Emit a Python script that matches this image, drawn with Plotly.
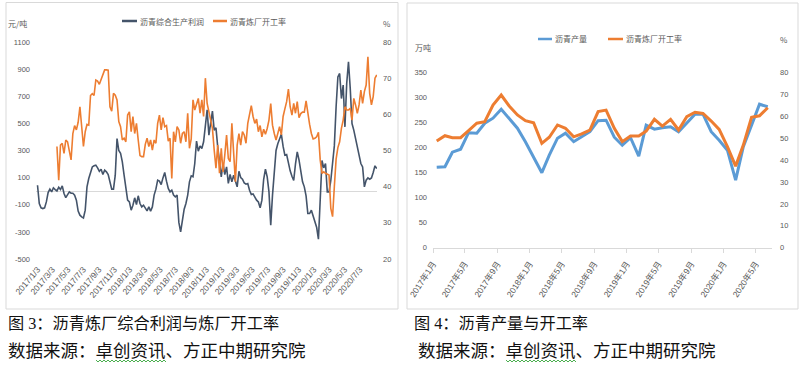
import pandas as pd
import plotly.graph_objects as go

W, H = 811, 373

# ---------------- 图3 data: weekly series starting 2017-01-03 ----------------
profit_start = "2017-01-03"
profit = [
    44, -91, -123, -128, -123, -79, -10, 15, -5, 25,
    12, 2, 29, 12, 39, -17, -47, -20, -5, -15,
    -15, -29, -66, -147, -177, -189, -197, -140, 32, 93,
    138, 179, 187, 192, 172, 147, 162, 123, 155, 143,
    123, 69, 15, 15, 118, 388, 300, 280, 216, 118,
    7, -66, -79, -140, -103, -49, -98, -34, -91, -116,
    -103, -128, -145, -116, -147, -116, -29, 15, 81, 74,
    49, 98, 138, 74, 20, -5, 7, -29, -42, -29,
    -230, -300, -220, -133, -91, -29, 69, 113, 106, 204,
    369, 295, 334, 315, 364, 480, 600, 413, 500, 590,
    450, 467, 327, 204, 106, 204, 123, 179, 57, 123,
    69, 118, 64, 32, 147, 101, 88, 61, 52, 57,
    7, -25, -20, -49, -66, -79, -123, -66, 88, 162,
    106, -5, -251, -29, 120, 300, 350, 390, 420, 330,
    265, 270, 200, 150, 110, 80, 200, 290, 230, 130,
    69, 32, -34, -165, -165, -140, -189, -238, -268, -354,
    -103, 226, 172, 204, -5, -5, 79, 192, 334, 622,
    843, 868, 683, 782, 474, 794, 954, 757, 499, 450,
    388, 302, 241, 204, 179, 32, 81, 98, 88, 98,
    138, 187, 167,
]
rate3 = [
    None, None, None, None, None, None, None, None, None, None,
    None, 51.1, 41.8, 51.5, 52, 49.2, 52.9, 52.4, 50.1, 47.4,
    54.7, 56.9, 55.7, 57.8, 62.1, 57, 51.1, 55.2, 57.2, 57,
    65.2, 65.7, 65.2, 69.5, 69.2, 68.3, 69.8, 71.1, 72.3, 72.3,
    72.2, 62.1, 60.9, 65.8, 65.3, 64, 58, 56.6, 52.9, 53.4,
    52.4, 59.8, 60.7, 55.2, 59.4, 54.7, 57.5, 52.9, 48.6, 48.3,
    48.3, 51.7, 53.4, 51.1, 52.9, 50.1, 52.9, 52, 57.5, 59.8,
    55.7, 59.1, 56.6, 56.9, 52.6, 53.4, 42.3, 55.2, 52.4, 56.6,
    55.7, 52, 54.7, 55.2, 52.4, 60.3, 50.6, 53.2, 64, 61.2,
    62.6, 64.4, 60.3, 64, 59.4, 70, 63, 60.6, 57.8, 56.1,
    50.1, 45.1, 51.5, 43.7, 50.6, 44.1, 48.8, 54.3, 47.8, 46.9,
    57.5, 49.7, 41.4, 51.5, 54.7, 51.5, 55.2, 54.3, 52, 57.5,
    60.3, 62.4, 59.4, 57.5, 58.7, 55.2, 56.9, 53.8, 55.9, 54.5,
    56.1, 58.4, 63, 57, 54.7, 52.9, 54.7, 56.6, 54.3, 59.4,
    61.5, 63.5, 67, 62.1, 59.8, 63, 60.3, 63.5, 59.1, 60.2,
    60.6, 60.6, 63.7, 59.8, 57.2, 54.7, 53.2, 53.4, 53.8, 55,
    47.4, 43.7, 44.1, 43.7, 43.4, 43.2, 34, 31.7, 40, 47.6,
    50.8, 52.4, 56.1, 58.4, 62.1, 61.2, 61.2, 61.7, 58.4, 64.4,
    62.6, 60.3, 62.6, 66.7, 63, 66.3, 68.1, 75.9, 65.8, 62.6,
    64.9, 70, 70.9,
]
left_tick_labels = [
    "2017/1/3", "2017/3/3", "2017/5/3", "2017/7/3", "2017/9/3", "2017/11/3",
    "2018/1/3", "2018/3/3", "2018/5/3", "2018/7/3", "2018/9/3", "2018/11/3",
    "2019/1/3", "2019/3/3", "2019/5/3", "2019/7/3", "2019/9/3", "2019/11/3",
    "2020/1/3", "2020/3/3", "2020/5/3", "2020/7/3",
]
left_y_ticks = [-500, -300, -100, 100, 300, 500, 700, 900, 1100]
left_y2_ticks = [20, 30, 40, 50, 60, 70, 80]

# ---------------- 图4 data: monthly 2017-01 .. 2020-06 ----------------
month_start = "2017-01-01"
output = [
    161, 162, 191, 197, 230, 229, 249, 259, 277, 259,
    239, 212, 182, 150, 185, 219, 229, 212, 222, 232,
    254, 255, 221, 205, 220, 183, 245, 237, 240, 242,
    232, 249, 267, 267, 232, 215, 195, 135, 202, 245,
    287, 282,
]
rate4 = [
    48.8, 51.2, 50.3, 50.3, 53.5, 56.9, 57.6, 65.2, 69.8, 64.8,
    60.7, 58.1, 57.1, 47.7, 50.5, 56.1, 54.6, 50.7, 52.0, 53.8,
    62.2, 62.9, 54.6, 48.5, 51.1, 51.1, 53.3, 58.7, 55.6, 58.7,
    53.8, 59.9, 61.9, 61.4, 57.9, 54.1, 46.2, 37.3, 46.9, 59.6,
    60.3, 64.0,
]
right_tick_labels = [
    "2017年1月", "2017年5月", "2017年9月", "2018年1月", "2018年5月", "2018年9月",
    "2019年1月", "2019年5月", "2019年9月", "2020年1月", "2020年5月",
]
right_y_ticks = [0, 50, 100, 150, 200, 250, 300, 350]
right_y2_ticks = [0, 10, 20, 30, 40, 50, 60, 70, 80]

# ---------------- derived categories ----------------
weeks = pd.date_range(profit_start, periods=len(profit), freq="7D")
months = pd.date_range(month_start, periods=len(output), freq="MS") + pd.Timedelta(days=14)
left_tick_vals = [pd.to_datetime(s, format="%Y/%m/%d").strftime("%Y-%m-%d") for s in left_tick_labels]
right_tick_vals = [pd.to_datetime(s.replace("年", "-").replace("月", "-1"), format="%Y-%m-%d").strftime("%Y-%m-%d")
                   for s in right_tick_labels]

NAVY = "#44546A"
ORANGE = "#ED7D31"
BLUE = "#5B9BD5"
GRAY = "#595959"
BORDER = "#D9D9D9"


def X(px):
    return px / W


def Y(py):
    return 1 - py / H


tickfont = dict(family="Liberation Sans, Noto Sans CJK SC", size=7.5, color=GRAY)
xfont_left = dict(family="Liberation Sans, Noto Sans CJK SC", size=8.5, color=GRAY)
xfont_right = dict(family="Liberation Sans, Noto Sans CJK SC", size=8.5, color=GRAY)

fig = go.Figure()
fig.add_trace(go.Scatter(x=weeks, y=profit, mode="lines", name="沥青综合生产利润",
                         line=dict(color=NAVY, width=1.6), xaxis="x", yaxis="y"))
fig.add_trace(go.Scatter(x=weeks, y=rate3, mode="lines", name="沥青炼厂开工率",
                         line=dict(color=ORANGE, width=1.6), xaxis="x", yaxis="y2"))
fig.add_trace(go.Scatter(x=months, y=output, mode="lines", name="沥青产量",
                         line=dict(color=BLUE, width=3), xaxis="x2", yaxis="y3"))
fig.add_trace(go.Scatter(x=months, y=rate4, mode="lines", name="沥青炼厂开工率",
                         line=dict(color=ORANGE, width=3), xaxis="x2", yaxis="y4"))

common = dict(showgrid=False, automargin=False)

fig.update_layout(
    width=W, height=H, margin=dict(l=0, r=0, t=0, b=0, pad=0), autosize=False,
    paper_bgcolor="white", plot_bgcolor="white", showlegend=False,
    xaxis=dict(domain=[X(36), X(377)], type="date", range=["2016-12-28", "2020-09-09"],
               tickmode="array", tickvals=left_tick_vals, ticktext=left_tick_labels,
               tickangle=-50, ticks="", showline=False, zeroline=False, anchor="y",
               ticklabelstandoff=3, tickfont=xfont_left, **common),
    yaxis=dict(domain=[Y(259), Y(42)], range=[-500, 1100], tickmode="array",
               tickvals=left_y_ticks, ticktext=[str(v) for v in left_y_ticks],
               zeroline=True, zerolinecolor=BORDER, zerolinewidth=1, showline=False,
               ticks="", anchor="x", ticklabelstandoff=5, tickfont=tickfont, **common),
    yaxis2=dict(overlaying="y", side="right", anchor="x", range=[20, 80], tickmode="array",
                tickvals=left_y2_ticks, ticktext=[str(v) for v in left_y2_ticks],
                zeroline=False, showline=False, ticks="", ticklabelstandoff=5,
                tickfont=tickfont, **common),
    xaxis2=dict(domain=[X(433), X(772)], type="date", range=["2017-01-01", "2020-07-01"],
                tickmode="array", tickvals=right_tick_vals, ticktext=right_tick_labels,
                tickangle=-57, ticks="outside", ticklen=4, tickcolor=BORDER,
                showline=True, linecolor=BORDER, linewidth=1, zeroline=False, anchor="y3",
                ticklabelstandoff=3, tickfont=xfont_right, **common),
    yaxis3=dict(domain=[Y(247.7), Y(72.7)], range=[0, 350], tickmode="array",
                tickvals=right_y_ticks, ticktext=[str(v) for v in right_y_ticks],
                zeroline=False, showline=False, ticks="", anchor="x2",
                ticklabelstandoff=5, tickfont=tickfont, **common),
    yaxis4=dict(overlaying="y3", side="right", anchor="x2", range=[0, 80], tickmode="array",
                tickvals=right_y2_ticks, ticktext=[str(v) for v in right_y2_ticks],
                zeroline=False, showline=False, ticks="", ticklabelstandoff=7,
                tickfont=tickfont, **common),
)

shapes = []
# panel borders
shapes.append(dict(type="rect", xref="paper", yref="paper", x0=X(6), x1=X(398), y0=Y(309), y1=Y(2.5),
                   line=dict(color=BORDER, width=1), fillcolor="rgba(0,0,0,0)"))
shapes.append(dict(type="rect", xref="paper", yref="paper", x0=X(407), x1=X(798), y0=Y(309), y1=Y(3),
                   line=dict(color=BORDER, width=1), fillcolor="rgba(0,0,0,0)"))
# legend samples
for (x0, x1, yy, col) in [(122, 137, 21, NAVY), (213, 227, 21, ORANGE),
                          (538, 552, 39, BLUE), (608, 623, 39, ORANGE)]:
    shapes.append(dict(type="line", xref="paper", yref="paper", x0=X(x0), x1=X(x1), y0=Y(yy), y1=Y(yy),
                       line=dict(color=col, width=2.5)))


# spell-check style wavy underline
def wavy(xa, xb, yy):
    pts = []
    x = xa
    up = True
    while x <= xb:
        pts.append((x, yy - 1 if up else yy + 1))
        up = not up
        x += 2
    d = "M " + " L ".join(f"{X(a):.5f},{Y(b):.5f}" for a, b in pts)
    return dict(type="path", xref="paper", yref="paper", path=d, line=dict(color="#4CAF50", width=1))


shapes.append(wavy(96, 166, 361))
shapes.append(wavy(506, 576, 361))
fig.update_layout(shapes=shapes)

ann = []
small = dict(family="Noto Sans CJK SC", size=8, color=GRAY)


def label(text, x, y, font, xanchor="left"):
    ann.append(dict(text=text, x=X(x), y=Y(y), xref="paper", yref="paper", showarrow=False,
                    xanchor=xanchor, yanchor="middle", font=font, borderpad=0))


label("沥青综合生产利润", 138.5, 21, small)
label("沥青炼厂开工率", 229, 21, small)
label("元/吨", 7, 23, small)
label("%", 382, 23, small)
label("沥青产量", 554, 39, small)
label("沥青炼厂开工率", 625, 39, small)
label("万吨", 414, 48, small)
label("%", 779, 40, small)

cap1 = dict(family="Liberation Serif, Noto Sans CJK SC", size=16.2, color="#111111")
cap2 = dict(family="Liberation Serif, Noto Sans CJK SC", size=17.5, color="#111111")
label("图 3：沥青炼厂综合利润与炼厂开工率", 7, 324, cap1)
label("数据来源：卓创资讯、方正中期研究院", 7, 351, cap2)
label("图 4：沥青产量与开工率", 413, 324, cap1)
label("数据来源：卓创资讯、方正中期研究院", 417, 351, cap2)
fig.update_layout(annotations=ann)

fig.write_html("out.html",
               config={"displayModeBar": False, "staticPlot": True},
               post_script="document.body.style.margin='0';document.body.style.overflow='hidden';")
